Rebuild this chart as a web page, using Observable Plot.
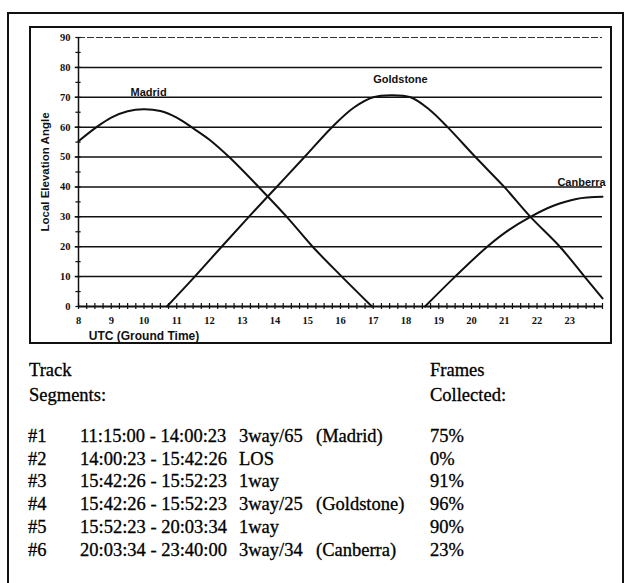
<!DOCTYPE html>
<html>
<head>
<meta charset="utf-8">
<script src="https://cdn.jsdelivr.net/npm/d3@7"></script>
<script src="https://cdn.jsdelivr.net/npm/@observablehq/plot@0.6"></script>
<style>
  html, body { margin: 0; padding: 0; background: #fff; width: 625px; height: 583px; overflow: hidden; }
  #page { position: relative; width: 625px; height: 583px; }
  .frame { position: absolute; border: 2px solid #111; box-sizing: border-box; pointer-events: none; z-index: 2; }
  #chart { position: absolute; left: 0; top: 0; z-index: 1; }
  .cell { position: absolute; font-family: "Liberation Serif", "Times New Roman", serif; font-size: 18.5px; color: #000; white-space: nowrap; line-height: 1; -webkit-text-stroke: 0.3px #000; }
</style>
</head>
<body>
<div id="page">
  <div class="frame" style="left:7px; top:12px; width:617px; height:600px;"></div>
  <div class="frame" style="left:29px; top:26px; width:583px; height:318px;"></div>
  <div id="chart"></div>
  <div id="table"></div>
</div>
<script>
// ---- Data ----
const hourTicks = [8, 9, 10, 11, 12, 13, 14, 15, 16, 17, 18, 19, 20, 21, 22, 23];
const angleTicks = [0, 10, 20, 30, 40, 50, 60, 70, 80, 90];

const madridHour  = [8, 8.55, 9, 9.5, 9.98, 10.5, 11, 11.45, 12, 12.6, 13.5, 14.36, 15.15, 16.04, 16.96];
const madridAngle = [55.3, 60, 63.2, 65.3, 66, 65.4, 63.2, 60, 55.8, 50, 40, 30, 20, 10, 0];

const goldstoneHour  = [10.7, 11.55, 12.37, 13.2, 14.05, 14.9, 15.74, 16.4, 17.0, 17.55, 18.14, 18.7, 19.27, 20.12, 21.0, 21.8, 22.7, 23.45, 24];
const goldstoneAngle = [0, 10, 20, 30, 40, 50, 60, 66.5, 70, 70.7, 70, 66, 60, 50, 40, 30, 20, 10, 2.7];

const canberraHour  = [18.58, 19.5, 20.48, 21.1, 21.8, 22.5, 23.2, 24];
const canberraAngle = [0, 10, 20, 25.3, 30, 33.7, 36, 36.7];

const stationNames = ["Madrid", "Goldstone", "Canberra"];
const labelHour  = [10.14, 17.83, 23.36];
const labelAngle = [70, 74.3, 40];

const segIds      = ["#1", "#2", "#3", "#4", "#5", "#6"];
const segTimes    = ["11:15:00 - 14:00:23", "14:00:23 - 15:42:26", "15:42:26 - 15:52:23", "15:42:26 - 15:52:23", "15:52:23 - 20:03:34", "20:03:34 - 23:40:00"];
const segModes    = ["3way/65", "LOS", "1way", "3way/25", "1way", "3way/34"];
const segStations = ["(Madrid)", "", "", "(Goldstone)", "", "(Canberra)"];
const segFrames   = ["75%", "0%", "91%", "96%", "90%", "23%"];

// ---- Build series ----
const series = [
  ...madridHour.map((h, i) => ({station: "Madrid", hour: h, angle: madridAngle[i]})),
  ...goldstoneHour.map((h, i) => ({station: "Goldstone", hour: h, angle: goldstoneAngle[i]})),
  ...canberraHour.map((h, i) => ({station: "Canberra", hour: h, angle: canberraAngle[i]}))
];
const labels = stationNames.map((s, i) => ({name: s, hour: labelHour[i], angle: labelAngle[i]}));
const quarterTicks = d3.range(8, 24.001, 0.25);
const fiveTicks = d3.range(0, 90.001, 5);
const gridLines = [10, 20, 30, 40, 50, 60, 70, 80];

const sans = "'Liberation Sans', Arial, sans-serif";
const chart = Plot.plot({
  width: 625,
  height: 345,
  marginLeft: 78,
  marginRight: 23,
  marginTop: 37,
  marginBottom: 39,
  x: {domain: [8, 24]},
  y: {domain: [0, 90]},
  style: {background: "transparent", fontFamily: "'Liberation Serif', serif", fontWeight: "bold", color: "#111", overflow: "visible"},
  marks: [
    // gridlines
    Plot.ruleY(gridLines, {y: d => d, x1: 7.9, x2: 24, stroke: "#111", strokeWidth: 1.5}),
    Plot.ruleY([90], {x1: 8, x2: 24, stroke: "#333", strokeWidth: 1.2, strokeDasharray: "7,2"}),
    // axes lines
    Plot.ruleY([0], {x1: 8, x2: 24, stroke: "#111", strokeWidth: 2}),
    Plot.ruleX([8], {y1: 0, y2: 90, stroke: "#111", strokeWidth: 1.5}),
    // cross ticks
    Plot.ruleX(quarterTicks, {x: d => d, y1: -1, y2: 1, stroke: "#111", strokeWidth: 1.2}),
    Plot.ruleY(fiveTicks, {y: d => d, x1: 7.92, x2: 8.08, stroke: "#111", strokeWidth: 1.2}),
    // tick labels
    Plot.axisX(hourTicks, {tickSize: 0, tickPadding: 10, tickFormat: d => String(d), fontSize: 10.5, label: null}),
    Plot.axisY(angleTicks, {tickSize: 0, tickPadding: 8, tickFormat: d => String(d), fontSize: 10.5, label: null}),
    // curves
    Plot.line(series, {x: "hour", y: "angle", z: "station", curve: "catmull-rom", stroke: "#111", strokeWidth: 2}),
    // curve labels
    Plot.text(labels, {x: "hour", y: "angle", text: "name", textAnchor: "middle", lineAnchor: "bottom", dy: -1, fontFamily: sans, fontWeight: "bold", fontSize: 11, fill: "#111"}),
    // axis titles
    Plot.text(["UTC (Ground Time)"], {x: 10, y: 0, text: d => d, dy: 25, lineAnchor: "top", textAnchor: "middle", fontFamily: sans, fontSize: 12, fill: "#111"}),
    Plot.text(["Local Elevation Angle"], {x: 8, y: 45, text: d => d, dx: -33, rotate: -90, textAnchor: "middle", fontFamily: sans, fontSize: 11.5, fill: "#111"})
  ]
});
document.getElementById("chart").appendChild(chart);

// ---- Table ----
const table = document.getElementById("table");
function cell(text, x, baseline) {
  const s = document.createElement("span");
  s.className = "cell";
  s.textContent = text;
  s.style.left = x + "px";
  s.style.top = (baseline - 15) + "px";
  table.appendChild(s);
}
cell("Track", 29, 376);
cell("Segments:", 29, 401);
cell("Frames", 430, 376);
cell("Collected:", 430, 401);
const rowBase = [442, 465, 487, 510, 533, 556];
segIds.forEach((id, i) => {
  cell(id, 28, rowBase[i]);
  cell(segTimes[i], 80, rowBase[i]);
  cell(segModes[i], 239, rowBase[i]);
  if (segStations[i]) cell(segStations[i], 316, rowBase[i]);
  cell(segFrames[i], 430, rowBase[i]);
});
</script>
</body>
</html>
